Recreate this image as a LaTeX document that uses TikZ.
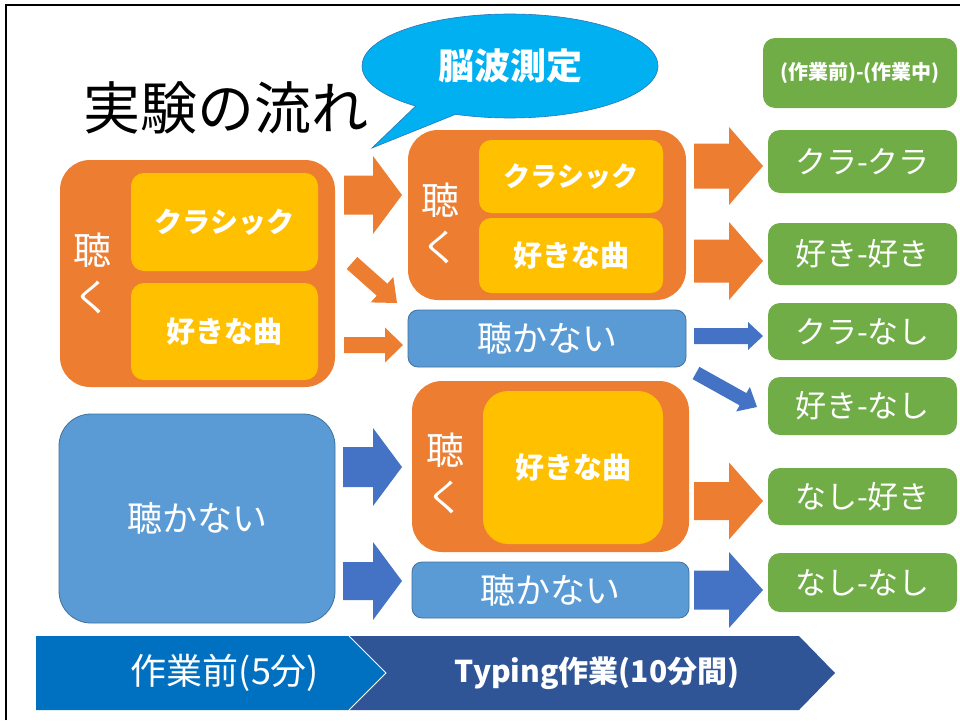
\documentclass[tikz,border=0pt]{standalone}
\usepackage{fontspec}
\setmainfont{Noto Sans CJK JP}
\usetikzlibrary{shapes.callouts}
\definecolor{orng}{HTML}{ED7D31}
\definecolor{yel}{HTML}{FFC000}
\definecolor{bbox}{HTML}{5B9BD5}
\definecolor{bboxbd}{HTML}{41719C}
\definecolor{barr}{HTML}{4472C4}
\definecolor{grn}{HTML}{70AD47}
\definecolor{cyanc}{HTML}{00B0F0}
\definecolor{cyanbd}{HTML}{2E75B6}
\definecolor{chevA}{HTML}{0070C0}
\definecolor{chevB}{HTML}{2F5597}
\newcommand\fsz[2]{\fontsize{#1}{#2}\selectfont}
\newcommand\barrow[8]{%
  \pgfmathsetmacro\baang{atan2(#3-#5,#4-#2)}%
  \pgfmathsetmacro\balen{veclen(#4-#2,#5-#3)}%
  \fill[#1,shift={(#2,#3)},rotate=\baang] (0,-#6) -- (\balen-#8,-#6) -- (\balen-#8,-#7) -- (\balen,0) -- (\balen-#8,#7) -- (\balen-#8,#6) -- (0,#6) -- cycle;}
\tikzset{
  obox/.style={rectangle, fill=orng, rounded corners=30pt, inner sep=0pt},
  ybox/.style={rectangle, fill=yel, rounded corners=13pt, inner sep=0pt, text=white, font=\bfseries\fsz{29}{32}},
  bluebox/.style={rectangle, fill=bbox, draw=bboxbd, line width=0.8pt, inner sep=0pt, text=white, font=\fsz{35}{38}},
  gbox/.style={rectangle, fill=grn, rounded corners=12pt, inner sep=0pt, minimum width=189pt, text=white, font=\fsz{31}{34}},
  vlabel/.style={text=white, align=center, inner sep=0pt},
}
\begin{document}
\begin{tikzpicture}[x=1pt,y=-1pt]
\useasboundingbox (0,0) rectangle (960,720);
\fill[white] (0,0) rectangle (960,720);
\draw[line width=2.5pt] (6,720) -- (6,5) -- (960,5);

% title
\node[font=\fsz{57}{60}, inner sep=0pt] (title) at (226,108) {実験の流れ};

% callout
\node[ellipse callout, fill=cyanc, draw=cyanbd, line width=0.6pt, minimum width=296pt, minimum height=104pt, inner sep=0pt,
  callout absolute pointer={(372,148)}, callout pointer arc=18, text=white, font=\bfseries\fsz{36}{40}] (eeg) at (510,66) {脳波測定};

% left orange group
\node[obox, minimum width=275pt, minimum height=227pt] (lo) at (197.5,273.5) {};
\node[ybox, minimum width=187pt, minimum height=98pt, font=\bfseries\fsz{28}{32}] (ly1) at (224.5,222) {クラシック};
\node[ybox, minimum width=187pt, minimum height=97pt] (ly2) at (224.5,331.5) {好きな曲};
\node[vlabel, font=\fsz{38}{47}] (lk) at (92,273.5) {聴\\く};

% left blue
\node[bluebox, rounded corners=32pt, minimum width=276pt, minimum height=209pt] (lb) at (197,518.5) {聴かない};

% middle top orange group
\node[obox, minimum width=278pt, minimum height=170pt] (mo1) at (547,215) {};
\node[ybox, minimum width=184pt, minimum height=73pt, rounded corners=12pt, font=\bfseries\fsz{27}{30}] (my1a) at (571,176.5) {クラシック};
\node[ybox, minimum width=184pt, minimum height=75pt, rounded corners=12pt] (my1b) at (571,255.5) {好きな曲};
\node[vlabel, font=\fsz{38}{47}] (mk1) at (440,223.5) {聴\\く};

% middle blue 1
\node[bluebox, rounded corners=10pt, minimum width=278pt, minimum height=57pt] (mb1) at (547,338.5) {聴かない};

% middle lower orange group
\node[obox, minimum width=277pt, minimum height=171pt] (mo2) at (550.5,466.5) {};
\node[ybox, minimum width=180pt, minimum height=153pt, rounded corners=25pt] (my2) at (573,467.5) {好きな曲};
\node[vlabel, font=\fsz{38}{47}] (mk2) at (445,473.5) {聴\\く};

% middle blue 2
\node[bluebox, rounded corners=10pt, minimum width=277pt, minimum height=56pt] (mb2) at (550.5,590) {聴かない};

% green boxes
\node[gbox, minimum width=194pt, minimum height=70pt, font=\bfseries\fsz{20}{23}] (g0) at (860,73) {(作業前)-(作業中)};
\node[gbox, minimum height=63pt] (g1) at (862.5,161.5) {クラ-クラ};
\node[gbox, minimum height=62pt] (g2) at (862.5,254) {好き-好き};
\node[gbox, minimum height=57pt] (g3) at (862.5,331.5) {クラ-なし};
\node[gbox, minimum height=58pt] (g4) at (862.5,406) {好き-なし};
\node[gbox, minimum height=57pt] (g5) at (862.5,496.5) {なし-好き};
\node[gbox, minimum height=59pt] (g6) at (862.5,582.5) {なし-なし};

% block arrows
\barrow{orng}{344}{195}{402}{195}{19.5}{39}{29}
\barrow{orng}{352}{263}{397}{303}{8}{17}{20}
\barrow{orng}{344}{345}{403}{345}{8}{17.5}{18}
\barrow{barr}{343}{467}{402}{467}{20}{39}{29}
\barrow{barr}{343}{581}{402}{581}{19}{39}{29}
\barrow{orng}{694}{166}{763}{166}{22.5}{39}{34}
\barrow{orng}{694}{261}{763}{261}{21.5}{39}{34}
\barrow{barr}{694}{336}{763}{336}{8}{14}{15}
\barrow{barr}{696}{373}{757}{407}{7}{14}{16}
\barrow{orng}{694}{501}{763}{501}{19}{38.5}{34}
\barrow{barr}{694}{590}{763}{590}{19.5}{38}{34}

% bottom chevrons
\fill[chevA] (36,636) -- (349,636) -- (386,673) -- (349,710) -- (36,710) -- cycle;
\fill[chevB] (349,636) -- (799,636) -- (835,673) -- (799,710) -- (349,710) -- (386,673) -- cycle;
\draw[white, line width=0.8pt] (349,636) -- (386,673) -- (349,710);
\node[text=white, font=\fsz{36}{40}, inner sep=0pt] (pre) at (225,673) {作業前(5分)};
\node[text=white, font=\bfseries\fsz{30}{34}, inner sep=0pt] (typ) at (597,673) {Typing作業(10分間)};
\end{tikzpicture}
\end{document}
